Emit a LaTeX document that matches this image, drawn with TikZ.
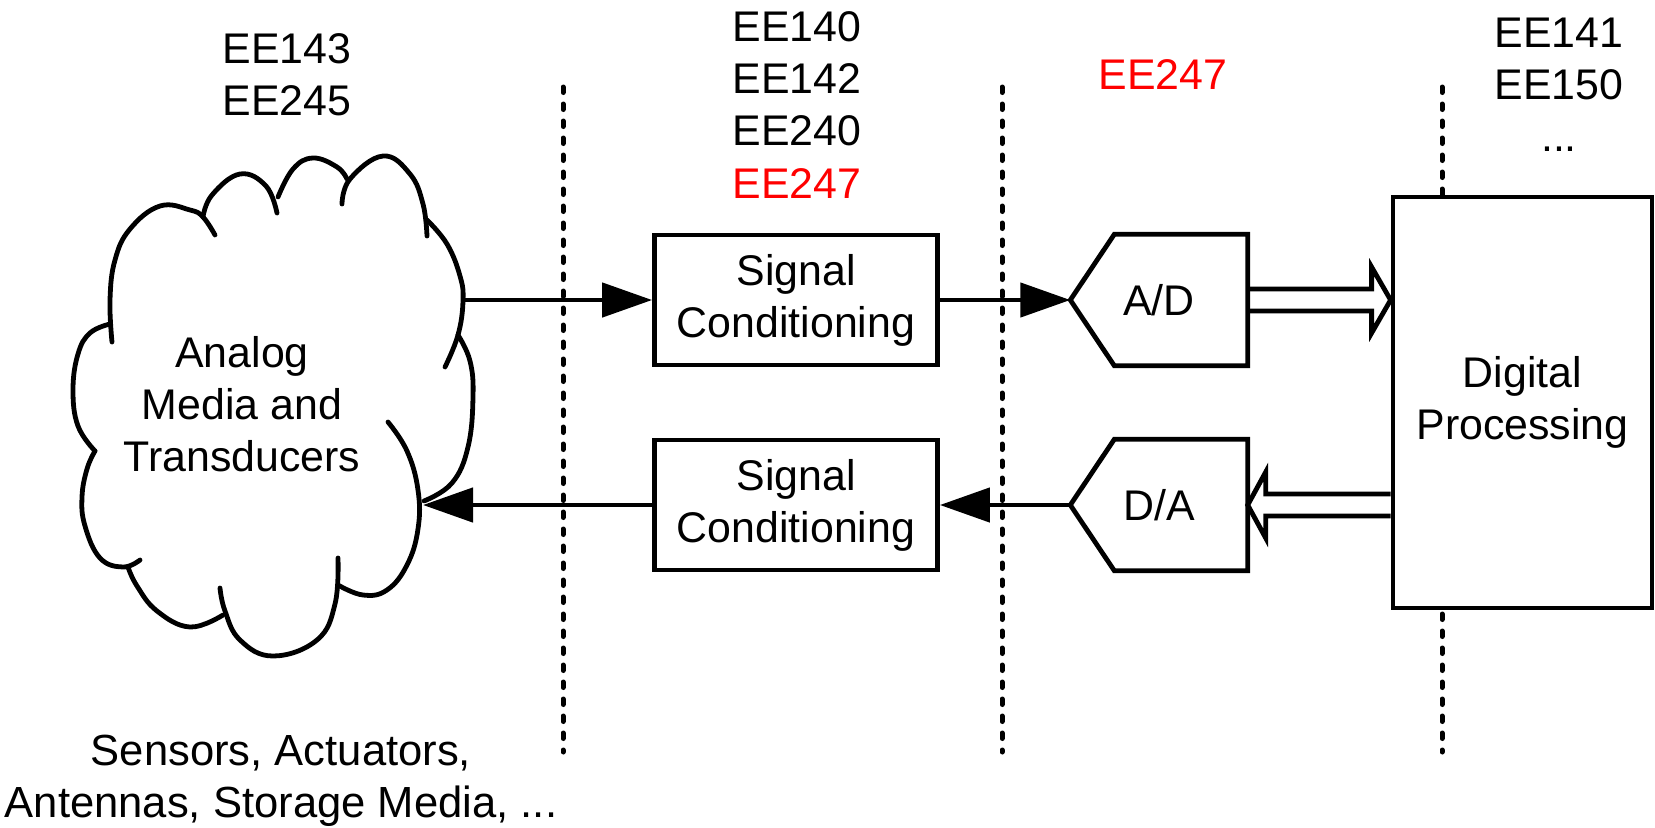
\documentclass[tikz,border=0pt]{standalone}
\usepackage{fontspec}
\setmainfont{Liberation Sans}
\usepackage{tikz}
\usetikzlibrary{shapes,arrows.meta,calc}

\begin{document}
\begin{tikzpicture}[x=0.1mm,y=-0.1mm,
    every node/.style={font=\fontsize{12.2}{14.8}\selectfont, inner sep=0pt},
    blk/.style={draw, line width=0.48mm, fill=white, align=center,
        minimum width=28.3mm, minimum height=13mm},
    conv/.style={minimum width=17.6mm, minimum height=13mm},
    arr/.style={line width=0.46mm, -{Triangle[length=5mm,width=3.4mm]}},
    fat/.style={line width=0.48mm, line join=miter},
    divider/.style={line width=0.5mm, line cap=round, dash pattern=on 0.55mm off 1.15mm},
    puff/.style={line width=0.48mm, line cap=round},
    lbl/.style={align=center}]
    \pgfmathsetmacro{\ytop}{87}
    \pgfmathsetmacro{\ybot}{752}
    \pgfmathsetmacro{\tip}{44}
    \pgfmathsetmacro{\gap}{11}
    \pgfmathsetmacro{\hh}{33}
    \useasboundingbox (0,0) rectangle (1655,827);

    % Draw the dotted dividers
    \foreach \x in {563,1002,1442}
        \draw [divider] (\x,\ytop) -- (\x,\ybot);

    % Course labels
    \node [lbl] (lab1) at (287,75) {EE143\\EE245};
    \node [lbl] (lab2) at (797,105) {EE140\\EE142\\EE240\\\textcolor{red}{EE247}};
    \node [lbl, red] (lab3) at (1163,75) {EE247};
    \node [lbl] (lab4) at (1559,85) {EE141\\EE150\\...};
    \node [lbl, font=\fontsize{12.4}{14.8}\selectfont] (lab5) at (281,781) {Sensors, Actuators,\\Antennas, Storage Media, ...};

    % Draw the cloud
    \node [lbl] (media) at (242,404) {Analog\\Media and\\Transducers};
    \draw [puff] plot [smooth, tension=0.7] coordinates {(112,342) (110,300) (115,260) (130,229) (160,206) (190,210) (203,217) (215,235)};
    \draw [puff] plot [smooth, tension=0.7] coordinates {(203,217) (212,195) (240,174) (266,186) (277,213)};
    \draw [puff] plot [smooth, tension=0.7] coordinates {(278,197) (293,169) (313,158) (337,167) (347,179)};
    \draw [puff] plot [smooth, tension=0.7] coordinates {(342,204) (350,179) (383,156) (410,174) (423,204) (427,236)};
    \draw [puff] plot [smooth, tension=0.7] coordinates {(427,220) (447,244) (460,276) (463,301) (458,335) (445,367)};
    \draw [puff] plot [smooth, tension=0.7] coordinates {(458,335) (470,361) (473,397) (468,447) (452,483) (424,501)};
    \draw [puff] plot [smooth, tension=0.7] coordinates {(388,422) (407,451) (418,490) (418,529) (407,565) (387,590) (363,595) (338,585)};
    \draw [puff] plot [smooth, tension=0.7] coordinates {(338,558) (335,604) (317,640) (273,656) (240,640) (225,611) (220,588)};
    \draw [puff] plot [smooth, tension=0.7] coordinates {(223,615) (190,627) (157,611) (137,586) (128,567)};
    \draw [puff] plot [smooth, tension=0.7] coordinates {(140,560) (123,567) (100,558) (85,526) (82,497) (87,469) (95,451)};
    \draw [puff] plot [smooth, tension=0.7] coordinates {(95,451) (78,426) (73,390) (78,354) (90,333) (110,324)};
    \coordinate (cloudout) at (463,300);
    \coordinate (cloudin) at (423,505);

    % Blocks
    \node [blk] (sc1) at (796,300) {Signal\\Conditioning};
    \node [blk] (sc2) at (796,505) {Signal\\Conditioning};
    \node [conv] (ad) at (1159,300) {A/D};
    \node [conv] (da) at (1159,505) {D/A};
    \node [blk, minimum width=25.9mm, minimum height=41.1mm] (dp) at (1522.5,402.5) {Digital\\Processing};
    \foreach \n in {ad,da}
        \draw [fat] ($(\n.north west)+(\tip,0)$) -- (\n.north east) -- (\n.south east)
            -- ($(\n.south west)+(\tip,0)$) -- (\n.west) -- cycle;

    % Signal path
    \draw [arr] (cloudout) -- (sc1.west);
    \draw [arr] (sc1.east) -- (ad.west);
    \draw [arr] (da.west) -- (sc2.east);
    \draw [arr] (sc2.west) -- (cloudin);

    % Hollow bus arrows
    \draw [fat] ($(ad.east)+(0,-\gap)$) -- ($(dp.west |- ad.east)+(-19,-\gap)$) -- ++(0,\gap-\hh)
        -- (dp.west |- ad.east) -- ++(-19,\hh) -- ++(0,\gap-\hh) -- ($(ad.east)+(0,\gap)$);
    \draw [fat] ($(dp.west |- da.east)+(0,-\gap)$) -- ($(da.east)+(18,-\gap)$) -- ++(0,\gap-\hh)
        -- (da.east) -- ++(18,\hh) -- ++(0,\gap-\hh) -- ($(dp.west |- da.east)+(0,\gap)$);
\end{tikzpicture}
\end{document}
